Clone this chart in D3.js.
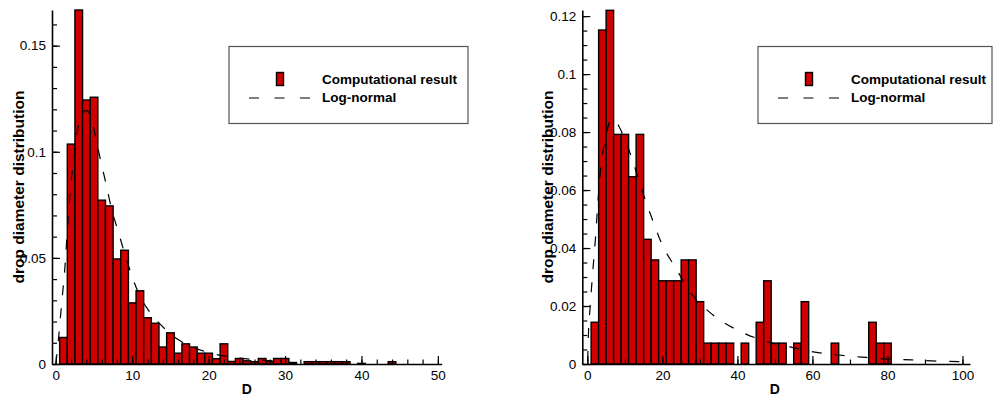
<!DOCTYPE html>
<html><head><meta charset="utf-8">
<script src="https://cdn.jsdelivr.net/npm/d3@7"></script>
<style>
body{margin:0;background:#fff}
svg{display:block}
text{font-family:"Liberation Sans",Arial,Helvetica,sans-serif}
</style>
</head><body>
<svg id="chart" width="1008" height="402"></svg>
<script>
// ---------- data ----------
const leftBinCenters = [1,2,3,4,5,6,7,8,9,10,11,12,13,14,15,16,17,18,19,20,21,22,23,24,25,26,27,28,29,30,31,33,34,35,36,37,38,40,44];
const leftDensity    = [0.0125,0.1036,0.1668,0.1244,0.1257,0.0772,0.0745,0.0495,0.0536,0.0288,0.0345,0.0218,0.0192,0.0080,0.0147,0.0051,0.0095,0.0080,0.0051,0.0051,0.0025,0.0095,0.0012,0.0026,0.0015,0.0011,0.0026,0.0012,0.0026,0.0026,0.0007,0.0011,0.0011,0.0011,0.0011,0.0011,0.0011,0.0003,0.0011];
const leftCurveD = [0.0,0.3,0.75,1.2,1.6,2.0,2.4,2.8,3.3,4.0,4.7,5.2,5.8,6.5,7.3,8.2,9.1,10.1,11.0,12.0,13.2,14.6,16.0,17.5,19.7,21.5,24,27,30];
const leftCurveV = [0.0,0.010,0.028,0.046,0.068,0.086,0.097,0.109,0.117,0.1195,0.115,0.107,0.097,0.086,0.073,0.062,0.051,0.040,0.032,0.026,0.0205,0.0155,0.0115,0.0085,0.0057,0.0041,0.0028,0.0018,0.0011];

const rightBinCenters = [2,4,6,8,10,12,14,16,18,20,22,24,26,28,30,32,34,36,38,42,46,48,50,52,56,58,66,76,78,80];
const rightDensity    = [0.0144,0.1152,0.1220,0.0792,0.0792,0.0646,0.0792,0.0430,0.0359,0.0287,0.0287,0.0287,0.0359,0.0359,0.0215,0.0072,0.0072,0.0072,0.0072,0.0072,0.0144,0.0287,0.0072,0.0072,0.0072,0.0215,0.0072,0.0144,0.0072,0.0072];
const rightCurveD = [0.1,0.25,0.7,1.25,1.7,2.2,2.6,3.6,4.7,6.0,7.2,8.4,10.6,12.7,14.8,17.0,20.0,23.6,27.4,33.5,40,47.4,54,60.6,66.8,73,80,86.5,93,100];
const rightCurveV = [0.001,0.009,0.019,0.0286,0.036,0.044,0.052,0.068,0.077,0.0835,0.0845,0.082,0.0755,0.0676,0.059,0.051,0.041,0.033,0.0248,0.0169,0.0117,0.0079,0.0059,0.0041,0.0031,0.0024,0.0017,0.0014,0.0010,0.0008];

const leftXTicks  = [0,10,20,30,40,50];
const leftYTicks  = [0,0.05,0.1,0.15];
const rightXTicks = [0,20,40,60,80,100];
const rightYTicks = [0,0.02,0.04,0.06,0.08,0.1,0.12];

const legendLabels = ["Computational result","Log-normal"];
const xTitle = "D";
const yTitle = "drop diameter distribution";

// ---------- drawing ----------
const svg = d3.select("#chart");
svg.append("rect").attr("width",1008).attr("height",402).attr("fill","#fff");

function panel(o){
  const g = svg.append("g");
  const x = d3.scaleLinear().domain(o.xDomain).range(o.xRange);
  const y = d3.scaleLinear().domain(o.yDomain).range([364,10]);
  const bars = o.centers.map((c,i)=>({c, v:o.values[i]}));

  g.append("g").selectAll("rect").data(bars).join("rect")
    .attr("x", d=>x(d.c - o.binWidth/2))
    .attr("width", d=>x(d.c + o.binWidth/2) - x(d.c - o.binWidth/2))
    .attr("y", d=>y(d.v))
    .attr("height", d=>y(0)-y(d.v))
    .attr("fill","#d10000").attr("stroke","#000").attr("stroke-width",1.4);

  // minor ticks
  const minorX = g.append("g").attr("transform","translate(0,364)")
    .call(d3.axisBottom(x).tickValues(o.minorX).tickSize(-4.5).tickFormat(""));
  minorX.select(".domain").remove();
  const minorY = g.append("g").attr("transform",`translate(${o.xRange[0]},0)`)
    .call(d3.axisLeft(y).tickValues(o.minorY).tickSize(-5).tickFormat(""));
  minorY.select(".domain").remove();

  const ax = g.append("g").attr("transform","translate(0,364)")
    .call(d3.axisBottom(x).tickValues(o.xTicks).tickSize(-8).tickSizeOuter(0).tickPadding(6).tickFormat(d=>String(d)));
  const ay = g.append("g").attr("transform",`translate(${o.xRange[0]},0)`)
    .call(d3.axisLeft(y).tickValues(o.yTicks).tickSize(-8).tickSizeOuter(0).tickPadding(6).tickFormat(d=>String(d)));
  [ax,ay,minorX,minorY].forEach(a=>{
    a.selectAll("line").attr("stroke","#000").attr("stroke-width",1.2);
    a.selectAll("text").attr("font-size","13.5px").attr("fill","#000")
      .style("font-family",'"Liberation Sans",Arial,sans-serif');
  });
  [ax,ay].forEach(a=>a.select(".domain").attr("stroke","#000").attr("stroke-width",1.6));

  // log-normal curve
  const pts = o.curveD.map((d,i)=>[d,o.curveV[i]]);
  g.append("path").datum(pts)
    .attr("d", d3.line().x(d=>x(d[0])).y(d=>y(d[1])).curve(d3.curveMonotoneX))
    .attr("fill","none").attr("stroke","#000").attr("stroke-width",1.2)
    .attr("stroke-dasharray","10,13");

  // titles
  g.append("text").attr("x",(x(o.xTicks[0])+x(o.xTicks[o.xTicks.length-1]))/2).attr("y",394)
    .attr("text-anchor","middle").attr("font-weight","bold").attr("font-size","14px").text(xTitle);
  g.append("text").attr("transform",`translate(${o.yTitleX},187) rotate(-90)`)
    .attr("text-anchor","middle").attr("font-weight","bold").attr("font-size","15.5px").text(yTitle);

  // legend
  const L = g.append("g").attr("transform",`translate(${o.legend[0]},46.5)`);
  L.append("rect").attr("x",0).attr("y",0).attr("width",o.legend[1]).attr("height",77)
    .attr("fill","#fff").attr("stroke","#555").attr("stroke-width",1.2);
  L.append("rect").attr("x",47.5).attr("y",26).attr("width",7).attr("height",13)
    .attr("fill","#d10000").attr("stroke","#000").attr("stroke-width",1.4);
  L.append("line").attr("x1",20).attr("x2",81).attr("y1",51.5).attr("y2",51.5)
    .attr("stroke","#000").attr("stroke-width",1.2).attr("stroke-dasharray","10,15.5");
  L.selectAll("text.lg").data(legendLabels).join("text").attr("class","lg")
    .attr("x",93).attr("y",(d,i)=>37+i*18)
    .attr("font-weight","bold").attr("font-size","13.5px").text(d=>d);
}

panel({
  xDomain:[-0.5,50.5], xRange:[52,441.7], yDomain:[0,0.1668],
  centers:leftBinCenters, values:leftDensity, binWidth:1,
  curveD:leftCurveD, curveV:leftCurveV,
  xTicks:leftXTicks, yTicks:leftYTicks,
  minorX:d3.range(0,51,2), minorY:d3.range(0,17).map(i=>i/100),
  yTitleX:24, legend:[229,239]
});
panel({
  xDomain:[-1.35,102], xRange:[582.3,970], yDomain:[0,0.1221],
  centers:rightBinCenters, values:rightDensity, binWidth:2,
  curveD:rightCurveD, curveV:rightCurveV,
  xTicks:rightXTicks, yTicks:rightYTicks,
  minorX:d3.range(0,101,10), minorY:d3.range(0,25).map(i=>i*0.005),
  yTitleX:553, legend:[758,234]
});
</script>
</body></html>
